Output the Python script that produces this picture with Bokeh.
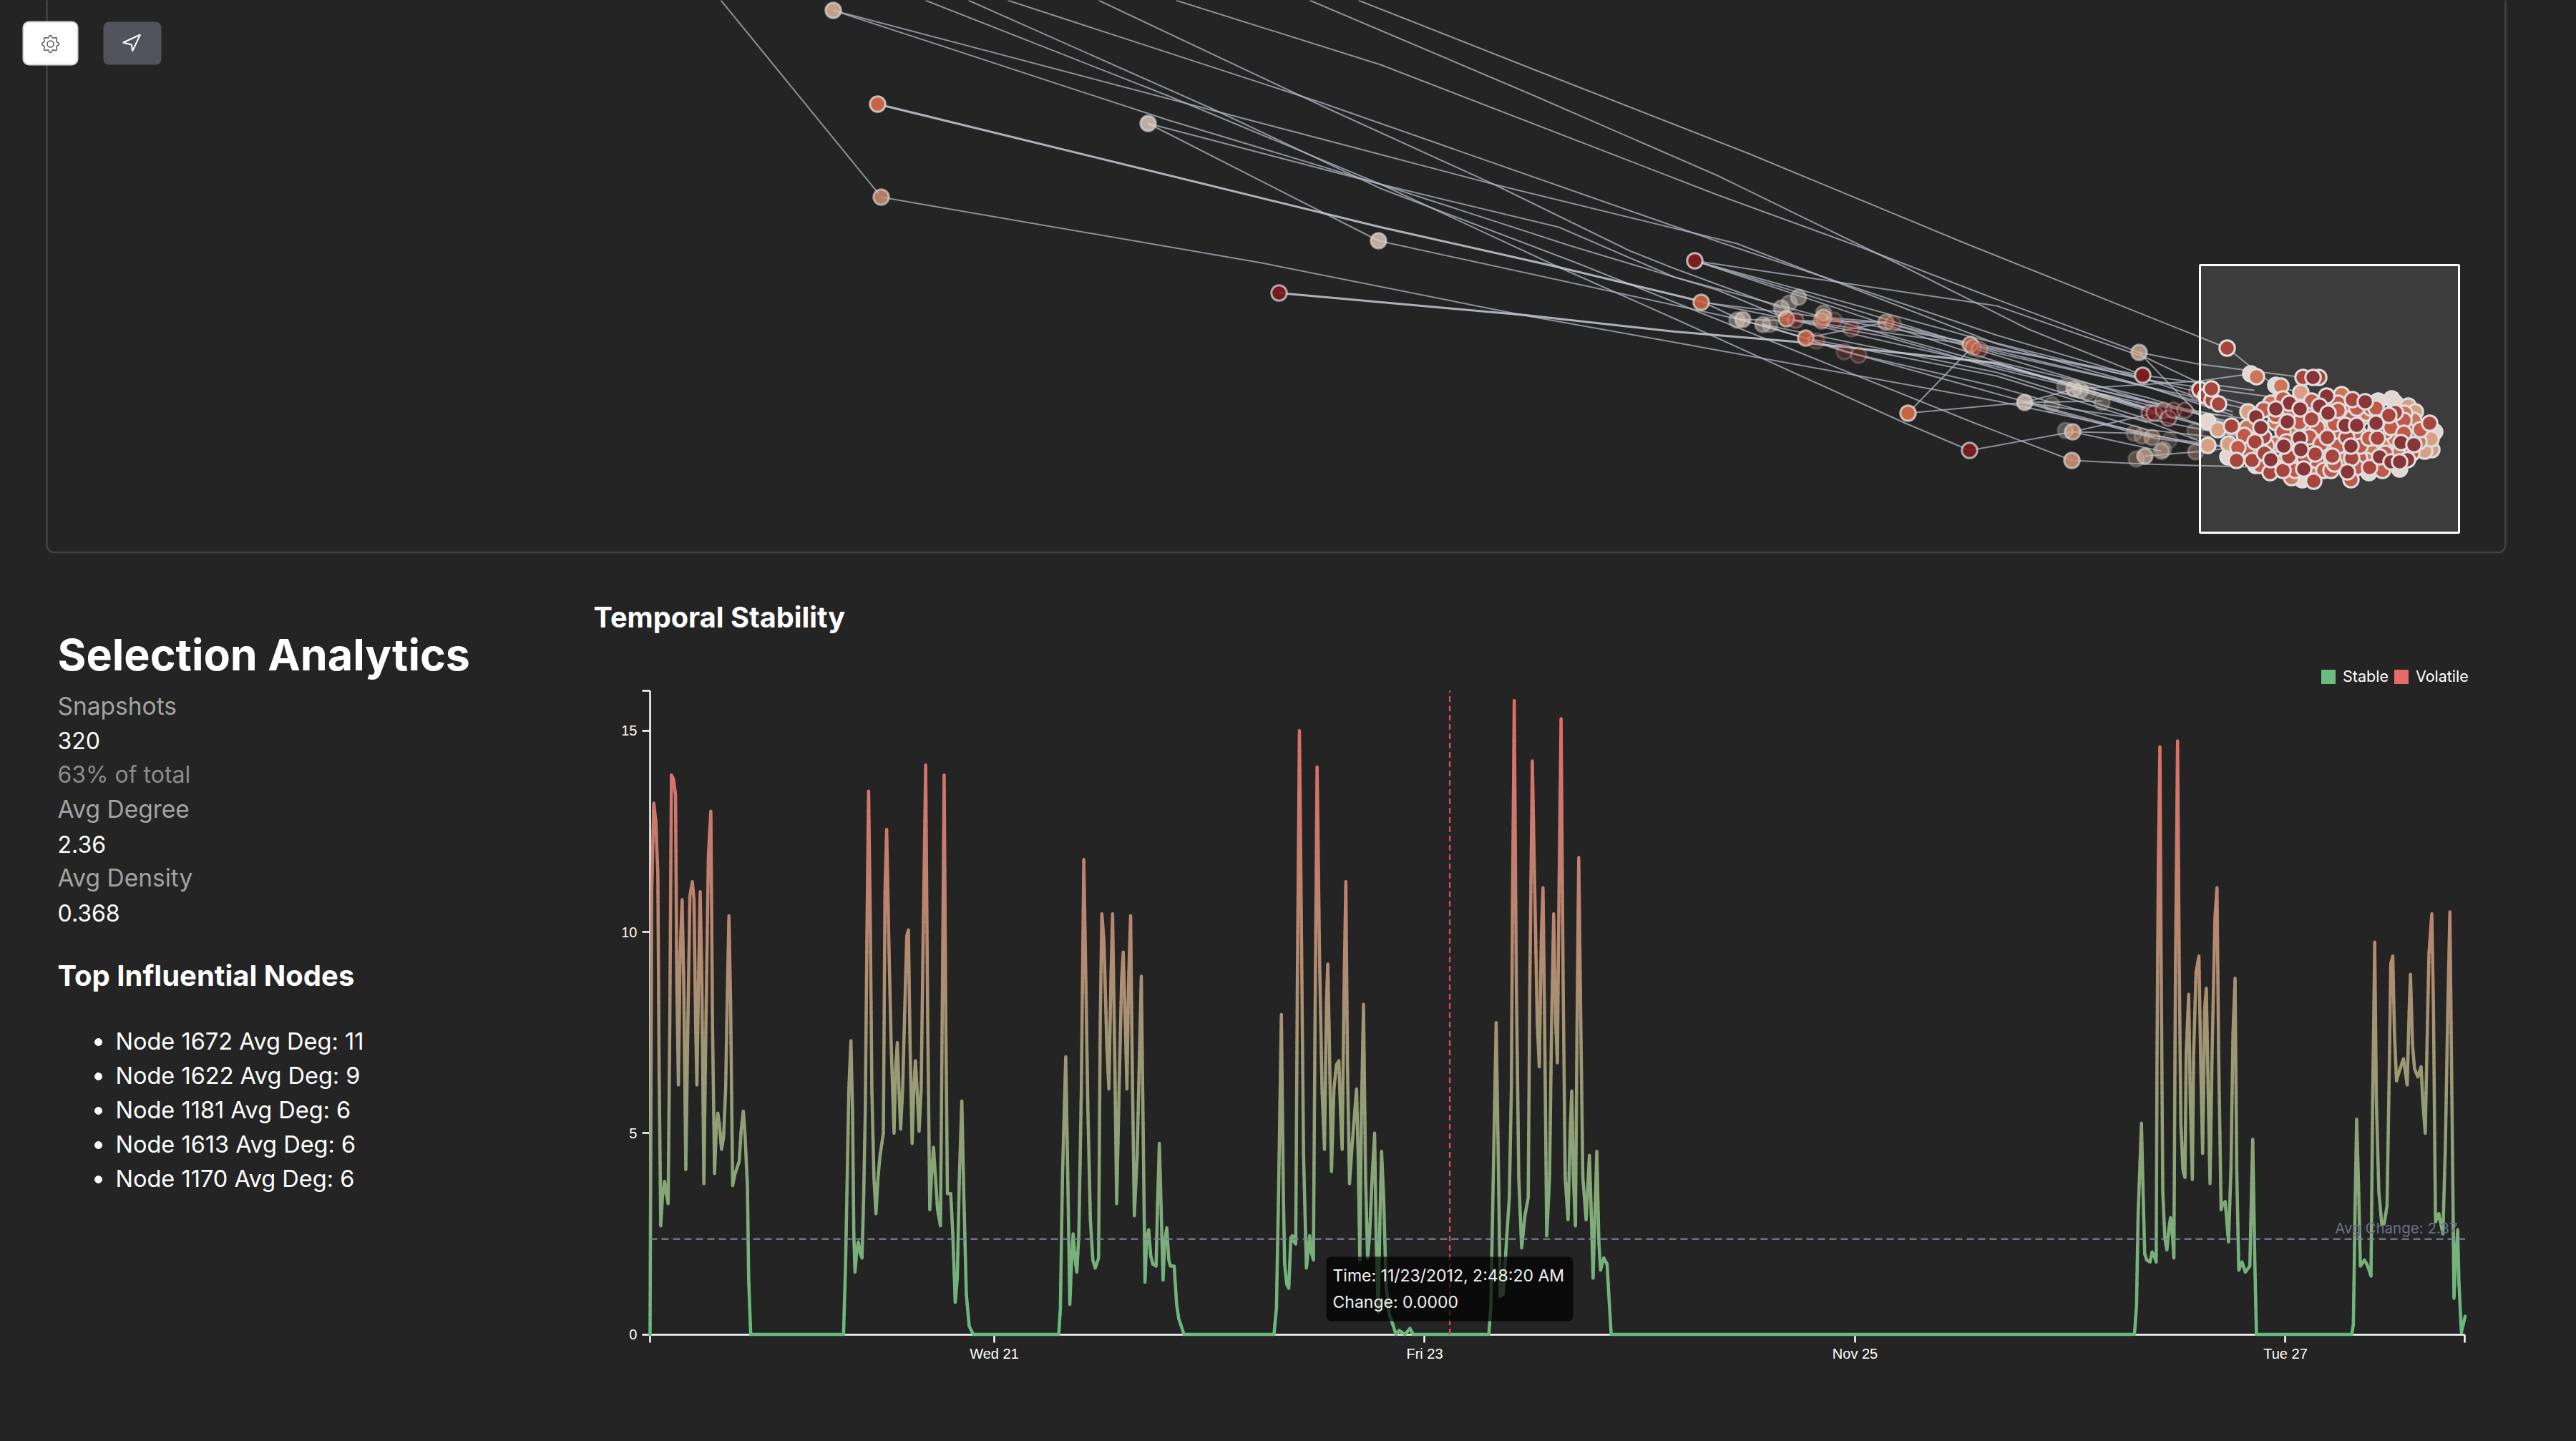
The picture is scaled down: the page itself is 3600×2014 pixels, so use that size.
from datetime import datetime, timezone

import numpy as np
from bokeh.core.properties import value
from bokeh.embed import file_html
from bokeh.layouts import column, row
from bokeh.models import FixedTicker, Range1d
from bokeh.plotting import figure
from bokeh.resources import INLINE

BG = "#242424"
FONT = "Inter"

# ---- network view: positions
palette = ["#7b1c1f", "#9d2d24", "#ba4534", "#c96443", "#d49475", "#dcb5a0", "#e2d0c6"]

outer_x = [1164, 1226, 1231, 1604, 1926, 1787, 2368, 2377, 2427, 2435, 2463, 2473, 2496, 2509, 2489, 2500,
           2513, 2548, 2545, 2563, 2548, 2587, 2635, 2645, 2523, 2538, 2577, 2597, 2753, 2757, 2766, 2666,
           2752, 2829, 2867, 2937, 2885, 2898, 2907, 2917, 2989, 2994, 2896, 2886, 2895, 2982, 2993, 3007,
           3031, 3020, 3023, 2997, 2985, 3003, 3010, 3023, 3030, 3037, 3053, 3067, 3068, 3070]
outer_y = [14, 145, 275, 172, 336, 409, 364, 422, 447, 446, 453, 453, 445, 447, 430, 423,
           415, 443, 448, 447, 437, 459, 450, 452, 472, 476, 491, 496, 481, 485, 488, 577,
           629, 562, 565, 562, 540, 543, 545, 548, 492, 524, 603, 601, 643, 605, 609, 611,
           615, 630, 628, 637, 641, 577, 577, 573, 584, 573, 573, 602, 631, 547]
outer_level = [5, 3, 4, 6, 6, 0, 0, 3, 6, 6, 6, 6, 3, 2, 6, 6,
               6, 3, 3, 2, 6, 2, 4, 2, 3, 2, 2, 2, 3, 3, 2, 3,
               0, 6, 6, 6, 6, 6, 6, 6, 5, 0, 4, 6, 4, 5, 5, 5,
               5, 5, 5, 5, 5, 0, 0, 0, 0, 0, 0, 5, 5, 0]
outer_alpha = [.85, 1, .8, .8, .8, .9, 1, .9, .4, .6, .45, .3, .85, .35, .45, .35,
               .45, .7, .5, .25, .35, .3, .5, .3, .85, .25, .25, .3, .8, .5, .35, 1,
               .9, .75, .25, .3, .3, .55, .45, .3, .75, 1, .8, .3, .85, .25, .3, .4,
               .2, .45, .3, .7, .3, .5, .6, .5, .55, .4, .4, .25, .35, .45]

sel_light = [(3342, 557), (3347, 563), (3402, 603), (3085, 589), (3113, 638), (3152, 650), (3217, 670),
             (3353, 655), (3310, 660), (3323, 560), (3145, 522), (3180, 538)]
sel_tan = [(3215, 548), (3365, 567), (3375, 575), (3398, 628), (3388, 630), (3141, 575), (3099, 600),
           (3114, 620), (3085, 622), (3397, 613), (3185, 558)]
sel_orange = [(3153, 526), (3187, 539), (3272, 551), (3202, 667), (3338, 617), (3373, 587),
              (3180, 590), (3207, 603), (3237, 580), (3277, 580), (3300, 583), (3327, 580), (3347, 613),
              (3313, 630), (3280, 607), (3253, 627), (3217, 633), (3180, 620), (3150, 603), (3140, 597),
              (3193, 643), (3227, 660), (3273, 643), (3307, 643), (3353, 633), (3380, 617), (3307, 577),
              (3280, 570), (3247, 567), (3200, 577), (3173, 563), (3223, 597), (3263, 600), (3320, 600),
              (3360, 577)]
sel_red = [(3190, 603), (3220, 583), (3260, 583), (3287, 583), (3313, 570), (3333, 603), (3367, 603),
           (3297, 640), (3267, 610), (3237, 643), (3200, 620), (3167, 623), (3140, 627), (3177, 650),
           (3207, 657), (3247, 657), (3293, 653), (3333, 633), (3370, 633), (3320, 570), (3293, 570),
           (3267, 563), (3227, 573), (3180, 580), (3190, 557), (3247, 600), (3297, 607), (3337, 587),
           (3341, 597), (3359, 587), (3382, 600), (3359, 605), (3136, 608), (3127, 625), (3262, 592),
           (3298, 623), (3267, 573), (3230, 560), (3163, 572), (3213, 590), (3238, 597), (3195, 617),
           (3227, 610), (3243, 620), (3267, 623), (3310, 612), (3158, 650), (3257, 657), (3285, 670),
           (3329, 657), (3262, 648), (3220, 640)]
sel_mid = [(3112, 486), (3287, 558), (3347, 576), (3338, 580), (3395, 591), (3074, 544), (3082, 553),
           (3091, 559), (3090, 543), (3100, 564), (3218, 527), (3240, 527), (3230, 585), (3252, 611),
           (3322, 612), (3118, 595), (3125, 643), (3147, 643), (3172, 660), (3190, 657), (3235, 634),
           (3259, 637), (3286, 640), (3311, 653), (3233, 672), (3198, 638), (3163, 610), (3151, 617),
           (3279, 611), (3164, 633)]
sel_dark = [(3232, 527), (3251, 553), (3305, 561), (3241, 567), (3199, 563), (3180, 571), (3214, 571),
            (3253, 577), (3152, 582), (3196, 589), (3159, 597), (3277, 594), (3293, 594), (3320, 591),
            (3213, 612), (3191, 623), (3285, 623), (3355, 618), (3373, 621), (3173, 642), (3215, 628),
            (3219, 655), (3280, 659), (3364, 642), (3325, 638), (3341, 645), (3353, 645)]

edge_paths = [
    [(1898, 0), (2144, 97), (2443, 214), (2747, 340), (3112, 486)],
    [(1830, 0), (2136, 130), (2400, 245), (2650, 367), (2833, 459), (2994, 524)],
    [(1643, 0), (1929, 90), (2400, 272), (2600, 345), (2790, 418), (2989, 492)],
    [(1408, 0), (1846, 143), (2400, 337), (2790, 468), (3000, 530), (3100, 565)],
    [(1164, 14), (1680, 150), (2087, 257), (2427, 340), (2790, 480), (3000, 540), (3120, 580)],
    [(1164, 14), (1631, 167), (1929, 257), (2194, 343), (2400, 405), (2496, 445)],
    [(1535, 0), (1846, 147), (2087, 257), (2277, 350), (2340, 375), (2489, 430)],
    [(1604, 172), (1929, 257), (2178, 317), (2340, 387), (2548, 443)],
    [(1604, 172), (1926, 336)],
    [(1926, 336), (2431, 446)],
    [(1231, 275), (1763, 367), (2128, 440), (2340, 478), (2790, 560), (3000, 605), (3074, 622)],
    [(1353, 0), (1697, 153), (1929, 263), (2203, 367), (2340, 422), (2757, 590), (2895, 643)],
    [(1293, 0), (1631, 133), (1929, 257), (2178, 373), (2340, 445), (2660, 590), (2752, 629)],
    [(1007, 0), (1228, 271)],
    [(2368, 364), (2790, 493), (3000, 540), (3120, 575)],
    [(2368, 364), (2790, 505), (3000, 555), (3140, 600)],
    [(2368, 364), (2790, 427), (3000, 500), (3090, 543)],
    [(2378, 421), (2496, 445), (2790, 512), (3000, 560), (3100, 580)],
    [(2378, 421), (2431, 446), (2523, 472), (2790, 525), (3000, 590)],
    [(2431, 446), (2523, 472), (2597, 496), (2790, 550), (3010, 610)],
    [(2463, 453), (2790, 520), (3000, 585), (3130, 610)],
    [(2496, 445), (2753, 481), (2994, 524), (3150, 545)],
    [(2548, 443), (2635, 450), (2790, 490), (3000, 540), (3180, 580)],
    [(2523, 472), (2587, 459), (2635, 450)],
    [(2666, 577), (2757, 483)],
    [(2666, 577), (2829, 562), (2898, 543), (3073, 532), (3145, 522)],
    [(2752, 629), (2896, 603), (3010, 577)],
    [(2829, 562), (2937, 560)],
    [(2896, 603), (2982, 605), (3120, 625)],
    [(2896, 603), (3020, 630)],
    [(2895, 643), (2997, 648), (3140, 652)],
    [(2997, 637), (3068, 631), (3125, 625)],
    [(2989, 492), (3073, 580), (3110, 610)],
    [(2989, 492), (3070, 508), (3218, 527)],
    [(2829, 562), (2990, 585), (3085, 620)],
    [(2829, 562), (2910, 585), (3010, 612), (3114, 625)],
    [(3112, 486), (3180, 540), (3215, 548)],
    [(2917, 548), (3000, 574), (3100, 600)],
    [(2897, 543), (3050, 585), (3150, 615)],
    [(2368, 364), (2753, 470), (2994, 530), (3180, 555)],
    [(2377, 422), (2548, 443), (2753, 478), (2994, 528), (3160, 570)],
    [(2431, 446), (2635, 450), (2753, 485), (3000, 560), (3120, 590)],
    [(2496, 445), (2635, 470), (2790, 515), (3000, 565), (3140, 585)],
    [(2548, 443), (2753, 500), (2994, 560), (3100, 585)],
    [(2463, 453), (2577, 491), (2790, 540), (3000, 600), (3090, 610)],
]
heavy_paths = [
    [(1226, 145), (1929, 317), (2178, 373), (2378, 421)],
    [(1787, 409), (2132, 440), (2340, 463), (2507, 477), (2790, 507), (3000, 570)],
]

# ---- temporal stability: (time tick, change); one tick is 164.9 s
burst_1 = [(188, 0), (192, 11.0), (197, 13.2), (202, 12.75), (207, 11.4), (210, 6.6), (214, 2.7), (218, 3.4),
           (223, 3.8), (228, 3.5), (232, 3.25), (236, 7.7), (240, 13.9), (245, 13.8), (250, 13.4), (253, 8.8),
           (257, 6.2), (261, 9.4), (266, 10.8), (270, 8.8), (275, 4.1), (280, 7.7), (285, 10.9), (291, 11.25),
           (295, 10.8), (299, 7.7), (302, 6.2), (306, 8.8), (310, 11.0), (314, 8.8), (319, 3.75), (324, 7.7),
           (330, 11.9), (336, 13.0), (340, 7.7), (345, 4.0), (349, 5.1), (353, 5.5), (357, 5.2), (362, 4.6),
           (367, 4.9), (372, 6.1), (376, 8.4), (380, 10.4), (384, 8.3), (389, 3.7), (395, 4.0), (400, 4.15),
           (405, 4.3), (410, 5.1), (415, 5.55), (419, 5.0), (425, 3.7), (428, 1.4), (433, 0)]
burst_2 = [(659, 0), (664, 1.75), (668, 3.9), (672, 6.1), (677, 7.3), (681, 5.55), (684, 2.5), (687, 1.55),
           (691, 2.05), (695, 2.3), (699, 2.05), (704, 1.9), (708, 3.4), (712, 5.55), (716, 9.9), (720, 13.5),
           (724, 10.45), (728, 6.1), (733, 3.9), (738, 3.0), (743, 3.9), (748, 4.45), (756, 5.0), (760, 11.0),
           (764, 12.55), (769, 9.9), (775, 7.2), (782, 5.0), (786, 6.65), (790, 7.25), (794, 6.1), (798, 5.1),
           (803, 6.1), (808, 8.05), (813, 9.9), (817, 10.05), (821, 7.2), (826, 4.75), (830, 6.1), (834, 6.8),
           (838, 6.1), (843, 5.05), (848, 6.1), (853, 9.9), (859, 14.15), (864, 7.75), (869, 3.1), (873, 3.9),
           (878, 4.65), (883, 3.9), (888, 3.1), (895, 2.7), (900, 8.8), (904, 13.9), (908, 7.75), (912, 3.5),
           (920, 3.5), (925, 2.5), (931, 0.8), (936, 1.4), (941, 3.9), (947, 5.8), (952, 3.4), (958, 1.0),
           (965, 0.2), (975, 0)]
burst_3 = [(1183, 0), (1187, 0.65), (1192, 3.9), (1200, 6.9), (1205, 3.9), (1210, 0.75), (1214, 1.75), (1218, 2.5),
           (1223, 1.85), (1227, 1.55), (1232, 2.5), (1238, 6.1), (1244, 11.8), (1249, 8.8), (1254, 5.55),
           (1260, 2.85), (1266, 1.85), (1272, 1.65), (1280, 1.9), (1284, 7.75), (1288, 10.45), (1293, 9.8),
           (1300, 7.2), (1305, 6.1), (1310, 8.8), (1314, 10.45), (1319, 7.2), (1324, 3.25), (1330, 6.1),
           (1336, 8.8), (1340, 9.5), (1345, 7.75), (1349, 6.1), (1353, 8.8), (1358, 10.4), (1362, 6.65),
           (1367, 2.95), (1374, 4.45), (1380, 7.2), (1384, 8.9), (1388, 5.55), (1393, 1.3), (1397, 2.4),
           (1402, 2.6), (1407, 1.95), (1412, 1.75), (1420, 1.7), (1424, 3.4), (1428, 4.75), (1433, 2.85),
           (1437, 1.35), (1441, 2.3), (1446, 2.65), (1451, 1.85), (1455, 1.7), (1464, 1.7), (1470, 0.75),
           (1475, 0.4), (1488, 0)]
burst_4 = [(1707, 0), (1713, 0.65), (1718, 3.4), (1725, 7.95), (1730, 3.4), (1733, 1.75), (1738, 1.25), (1743, 1.15),
           (1748, 2.4), (1752, 2.45), (1756, 2.3), (1760, 2.25), (1764, 8.8), (1769, 15.0), (1774, 9.9), (1779, 4.45),
           (1786, 1.65), (1794, 2.45), (1798, 2.05), (1803, 1.85), (1807, 7.75), (1812, 14.1), (1818, 9.35),
           (1824, 6.1), (1830, 4.6), (1835, 8.3), (1838, 9.2), (1842, 7.2), (1847, 4.05), (1853, 6.1), (1859, 6.7),
           (1865, 6.8), (1869, 5.55), (1873, 4.6), (1878, 8.8), (1882, 11.25), (1886, 6.65), (1891, 3.75),
           (1898, 4.8), (1908, 6.1), (1912, 4.45), (1916, 1.85), (1920, 5.55), (1925, 8.2), (1930, 3.9), (1935, 1.9),
           (1940, 2.5), (1946, 3.9), (1952, 5.0), (1956, 2.3), (1961, 0.55), (1965, 2.85), (1969, 4.55), (1974, 3.4),
           (1980, 1.2), (1988, 0.5), (1998, 0.2), (2004, 0), (2012, 0.1), (2026, 0), (2038, 0.15), (2046, 0)]
burst_5 = [(2230, 0), (2235, 0.65), (2240, 3.4), (2248, 7.75), (2253, 4.45), (2258, 0.95), (2265, 1.0), (2273, 2.3),
           (2280, 3.4), (2285, 6.1), (2288, 11.0), (2292, 15.75), (2297, 8.8), (2303, 3.9), (2310, 2.15), (2318, 2.95),
           (2326, 3.4), (2330, 8.8), (2336, 14.25), (2341, 11.55), (2348, 7.75), (2353, 6.65), (2358, 9.9), (2362, 11.1),
           (2366, 7.75), (2371, 2.45), (2378, 3.9), (2383, 7.75), (2388, 10.45), (2393, 7.75), (2397, 6.75), (2401, 11.0),
           (2406, 15.3), (2411, 8.8), (2416, 3.9), (2423, 2.85), (2428, 5.0), (2432, 6.05), (2436, 3.9), (2441, 2.7),
           (2445, 7.75), (2449, 11.85), (2454, 7.75), (2459, 3.9), (2467, 2.85), (2475, 4.45), (2480, 2.85), (2484, 1.4),
           (2493, 4.55), (2498, 2.3), (2502, 1.6), (2510, 1.9), (2518, 1.75), (2523, 0.85), (2528, 0)]
burst_6 = [(3802, 0), (3807, 0.7), (3811, 3.0), (3815, 4.1), (3819, 5.25), (3823, 3.55), (3827, 2.0), (3832, 1.85),
           (3840, 1.8), (3845, 2.05), (3850, 1.95), (3855, 1.8), (3857, 6.95), (3860, 11.5), (3864, 14.6), (3867, 9.2),
           (3871, 3.55), (3876, 2.4), (3881, 2.1), (3886, 2.65), (3890, 2.9), (3895, 2.4), (3898, 1.9), (3902, 9.2),
           (3907, 14.75), (3911, 9.2), (3915, 5.25), (3920, 4.1), (3925, 3.9), (3928, 6.95), (3934, 8.45), (3938, 5.8),
           (3943, 3.85), (3946, 6.95), (3952, 9.0), (3959, 9.4), (3964, 6.4), (3968, 4.5), (3973, 8.1), (3977, 8.6),
           (3982, 5.8), (3986, 3.75), (3991, 6.95), (3998, 10.35), (4003, 11.1), (4007, 6.95), (4013, 3.1), (4017, 3.25),
           (4023, 3.3), (4031, 2.3), (4037, 4.1), (4042, 7.5), (4047, 8.85), (4051, 4.1), (4056, 1.6), (4064, 1.8),
           (4072, 1.55), (4083, 1.7), (4087, 3.55), (4090, 4.85), (4095, 1.85), (4099, 0)]
burst_7 = [(4331, 0), (4335, 0.25), (4339, 3.0), (4343, 5.35), (4348, 3.55), (4352, 1.7), (4362, 1.85), (4370, 1.7),
           (4378, 1.45), (4382, 5.8), (4387, 9.75), (4391, 5.8), (4397, 3.55), (4404, 2.75), (4410, 2.75), (4417, 3.2),
           (4423, 6.95), (4426, 9.2), (4431, 9.4), (4435, 7.5), (4440, 6.3), (4447, 6.55), (4457, 6.85), (4466, 6.2),
           (4471, 8.1), (4474, 8.95), (4479, 7.2), (4484, 6.6), (4492, 6.4), (4500, 6.65), (4504, 5.8), (4510, 5.0),
           (4515, 7.5), (4519, 9.45), (4526, 10.45), (4530, 8.1), (4535, 2.8), (4543, 3.0), (4553, 2.5), (4559, 4.7),
           (4565, 8.1), (4570, 10.5), (4575, 5.8), (4580, 0.9), (4584, 1.85), (4589, 2.6), (4592, 1.3), (4598, 0.05),
           (4607, 0.45)]
bursts = [burst_1, burst_2, burst_3, burst_4, burst_5, burst_6, burst_7]

avg_change = 2.37
y_ticks = [0, 5, 10, 15]
y_top = 16
x_tick_dates = [datetime(2012, 11, 21), datetime(2012, 11, 23), datetime(2012, 11, 25), datetime(2012, 11, 27)]
x_tick_labels = ["Wed 21", "Fri 23", "Nov 25", "Tue 27"]
hover_time = datetime(2012, 11, 23, 2, 48, 20)

stat_labels = ["Snapshots", "Avg Degree", "Avg Density"]
stat_values = ["320", "2.36", "0.368"]
top_nodes = ["Node 1672 Avg Deg: 11", "Node 1622 Avg Deg: 9", "Node 1181 Avg Deg: 6",
             "Node 1613 Avg Deg: 6", "Node 1170 Avg Deg: 6"]


def to_ms(d):
    return d.replace(tzinfo=timezone.utc).timestamp() * 1000


def blank(fig):
    fig.background_fill_color = BG
    fig.border_fill_color = BG
    fig.outline_line_color = None
    fig.min_border = 0
    fig.min_border_left = fig.min_border_right = fig.min_border_top = fig.min_border_bottom = 0
    return fig


# ---------------- top: network
net = blank(figure(width=3600, height=800, output_backend="svg", toolbar_location=None,
                   x_range=Range1d(0, 3600), y_range=Range1d(800, 0), x_axis_type=None, y_axis_type=None))
net.grid.visible = False

net.quad(left=[65], right=[3501], top=[-30], bottom=[771.5], fill_alpha=0, line_color="#434343",
         line_width=2.5, border_radius=10)

net.multi_line([[p[0] for p in e] for e in edge_paths], [[p[1] for p in e] for e in edge_paths],
               line_color="#b4bac6", line_alpha=0.72, line_width=2)
net.multi_line([[p[0] for p in e] for e in heavy_paths], [[p[1] for p in e] for e in heavy_paths],
               line_color="#c6cbd4", line_alpha=0.85, line_width=3)

net.scatter(outer_x, outer_y, size=21.5, line_width=3, fill_color=[palette[i] for i in outer_level],
            line_color="#dadada", fill_alpha=outer_alpha, line_alpha=[a * 0.8 for a in outer_alpha])

sel_groups = [(sel_light, 6), (sel_tan, 4), (sel_orange, 3), (sel_red, 2), (sel_mid, 1), (sel_dark, 0)]
for group, level in sel_groups:
    net.scatter([p[0] for p in group], [p[1] for p in group], size=21.5, line_width=3,
                fill_color=palette[level], line_color="#dadada")

# brush rectangle lies over the nodes, that is why they look paler inside it
net.quad(left=[3074], right=[3436], top=[370], bottom=[744], fill_color="white", fill_alpha=0.11,
         line_color="white", line_width=3)

# buttons
net.quad(left=[32], right=[108], top=[30], bottom=[90], fill_color="white", line_color="#d5d5d8",
         line_width=2, border_radius=8)
net.quad(left=[144], right=[225], top=[30], bottom=[90], fill_color="#52535c", line_color=None, border_radius=8)
angle = np.linspace(0, 2 * np.pi, 97)
net.patch(70 + (10.5 + 1.5 * np.cos(8 * angle)) * np.cos(angle), 61 + (10.5 + 1.5 * np.cos(8 * angle)) * np.sin(angle),
          fill_alpha=0, line_color="#55565c", line_width=1.5)
net.scatter([70], [61], size=9, fill_alpha=0, line_color="#55565c", line_width=1.5)
net.patch([195.5, 171.5, 183.5, 184.5], [48, 59, 62, 71], fill_alpha=0, line_color="white", line_width=2)

# ---------------- bottom left: analytics text
side = blank(figure(width=788, height=1214, output_backend="svg", toolbar_location=None,
                    x_range=Range1d(0, 788), y_range=Range1d(2014, 800), x_axis_type=None, y_axis_type=None))
side.grid.visible = False


def side_text(x, baseline, txt, size, color="white", style="normal"):
    side.text([x], [baseline - 0.365 * size], text=[txt], text_font=value(FONT), text_font_size=f"{size}px",
              text_color=color, text_font_style=style, text_baseline="middle")


side_text(80, 937, "Selection Analytics", 61, style="bold")
side_text(80, 999, stat_labels[0], 33.5, "#a3a3a3")
side_text(80, 1046, stat_values[0], 32)
side_text(80, 1094, "63% of total", 32, "#8c8c8c")
side_text(80, 1143, stat_labels[1], 33.5, "#a3a3a3")
side_text(80, 1191, stat_values[1], 32)
side_text(80, 1239, stat_labels[2], 33.5, "#a3a3a3")
side_text(80, 1287, stat_values[2], 32)
side_text(80, 1378, "Top Influential Nodes", 40, style="bold")
node_rows = [1467, 1515, 1563, 1611, 1659]
side.scatter([137] * len(node_rows), [r - 11 for r in node_rows], size=10, color="white")
for r, txt in zip(node_rows, top_nodes):
    side_text(161, r, txt, 32.5)

# ---------------- bottom right: temporal stability
NOV21 = to_ms(datetime(2012, 11, 21))
TICK_MS = 164900
PX_MS = 287282


def tick_ms(t):
    return NOV21 + (t - 1026) * TICK_MS


def at_x(px):
    return NOV21 + (px - 1389) * PX_MS


def at_y(py):
    return (1864.6 - py) / 56.25


axis_start = tick_ms(burst_1[0][0])
axis_end = tick_ms(burst_7[-1][0])

chart = blank(figure(width=2812, height=1214, output_backend="svg", toolbar_location=None,
                     x_axis_type="datetime",
                     x_range=Range1d(at_x(788), at_x(3600)), y_range=Range1d(at_y(2014), at_y(800))))
chart.grid.visible = False

xax = chart.xaxis[0]
xax.fixed_location = 0
xax.bounds = (axis_start, axis_end)
x_ticks_ms = [to_ms(d) for d in x_tick_dates]
xax.ticker = FixedTicker(ticks=x_ticks_ms, minor_ticks=[axis_start, axis_end])
xax.major_label_overrides = dict(zip(x_ticks_ms, x_tick_labels))
yax = chart.yaxis[0]
yax.fixed_location = axis_start
yax.bounds = (0, y_top)
yax.ticker = FixedTicker(ticks=y_ticks, minor_ticks=[y_top])
for ax in (xax, yax):
    ax.level = "underlay"
    ax.axis_line_color = "white"
    ax.axis_line_width = 2.5
    ax.major_tick_line_color = "white"
    ax.major_tick_line_width = 2.5
    ax.minor_tick_line_color = "white"
    ax.minor_tick_line_width = 2.5
    ax.major_tick_out = 11
    ax.major_tick_in = 0
    ax.minor_tick_out = 11
    ax.minor_tick_in = 0
    ax.major_label_text_color = "white"
    ax.major_label_text_font = "Liberation Sans"
    ax.major_label_text_font_size = "20px"
xax.major_label_standoff = 5
yax.major_label_standoff = 7

GREEN = np.array([0x69, 0xbb, 0x7e])
RED = np.array([0xe4, 0x6b, 0x68])
TOP_VALUE = 15.75
BAND = 0.25


def add_piece(pieces, key, t0, v0, t1, v1):
    xs, ys = pieces.setdefault(key, ([], []))
    xs += [tick_ms(t0), tick_ms(t1), np.nan]
    ys += [v0, v1, np.nan]


# stroke colour follows the value, so each segment is cut where it crosses a colour band
pieces = {}
for burst in bursts:
    for (t0, v0), (t1, v1) in zip(burst[:-1], burst[1:]):
        lo, hi = min(v0, v1), max(v0, v1)
        cuts = [lo]
        k = int(lo // BAND) + 1
        while k * BAND < hi:
            cuts.append(k * BAND)
            k += 1
        cuts.append(hi)
        if v0 > v1:
            cuts = cuts[::-1]
        if v0 == v1:
            add_piece(pieces, int(v0 // BAND), t0, v0, t1, v1)
            continue
        for a, b in zip(cuts[:-1], cuts[1:]):
            ta = t0 + (a - v0) / (v1 - v0) * (t1 - t0)
            tb = t0 + (b - v0) / (v1 - v0) * (t1 - t0)
            add_piece(pieces, int(min(a, b) // BAND), ta, a, tb, b)
# flat runs between the bursts
for prev, nxt in zip(bursts[:-1], bursts[1:]):
    add_piece(pieces, 0, prev[-1][0], 0, nxt[0][0], 0)

for key in sorted(pieces):
    mix = min((key + 0.5) * BAND / TOP_VALUE, 1)
    r, g, b = (GREEN + (RED - GREEN) * mix).astype(int)
    xs, ys = pieces[key]
    chart.line(xs, ys, line_color=f"#{r:02x}{g:02x}{b:02x}", line_width=4.5, line_join="round", line_cap="round")

chart.line([axis_start, axis_end], [avg_change, avg_change], line_color="#80859c", line_width=2, line_dash=[10, 6])


def chart_text(px, baseline, txt, size, color, style="normal", align="left"):
    chart.text([at_x(px)], [at_y(baseline - 0.365 * size)], text=[txt], text_font=value(FONT),
               text_font_size=f"{size}px", text_font_style=style, text_color=color, text_align=align,
               text_baseline="middle")


chart_text(3434, 1723, f"Avg Change: {avg_change}", 20.5, "#6c7088", align="right")

hover_ms = to_ms(hover_time)
chart.line([hover_ms, hover_ms], [0, y_top], line_color="#cf4b4b", line_width=2.5, line_dash=[8, 5])

chart.quad(left=[at_x(1853)], right=[at_x(2198)], top=[at_y(1756)], bottom=[at_y(1846)], fill_color="black",
           fill_alpha=0.7, line_color=None, border_radius=7)
chart_text(1862, 1791, "Time: 11/23/2012, 2:48:20 AM", 23, "#f2f2f2")
chart_text(1862, 1828, "Change: 0.0000", 23, "#f2f2f2")

chart_text(829, 877, "Temporal Stability", 39.7, "white", style="bold")

chart.quad(left=[axis_start], right=[axis_start], top=[0], bottom=[0], fill_color="#69bb7e", line_color=None,
           legend_label="Stable")
chart.quad(left=[axis_start], right=[axis_start], top=[0], bottom=[0], fill_color="#e46b68", line_color=None,
           legend_label="Volatile")
leg = chart.legend[0]
leg.orientation = "horizontal"
leg.location = (2453, 1056)
leg.margin = 0
leg.padding = 0
leg.spacing = 5
leg.glyph_width = 25
leg.glyph_height = 25
leg.label_standoff = 8
leg.label_text_font = FONT
leg.label_text_font_size = "21.5px"
leg.label_text_color = "white"
leg.background_fill_alpha = 0
leg.border_line_alpha = 0

page = column(net, row(side, chart, spacing=0), spacing=0)

template = """{% block postamble %}<style>html, body { background: #242424; margin: 0; overflow: hidden; }</style>{% endblock %}"""
open("out.html", "w").write(file_html(page, INLINE, template=template))
